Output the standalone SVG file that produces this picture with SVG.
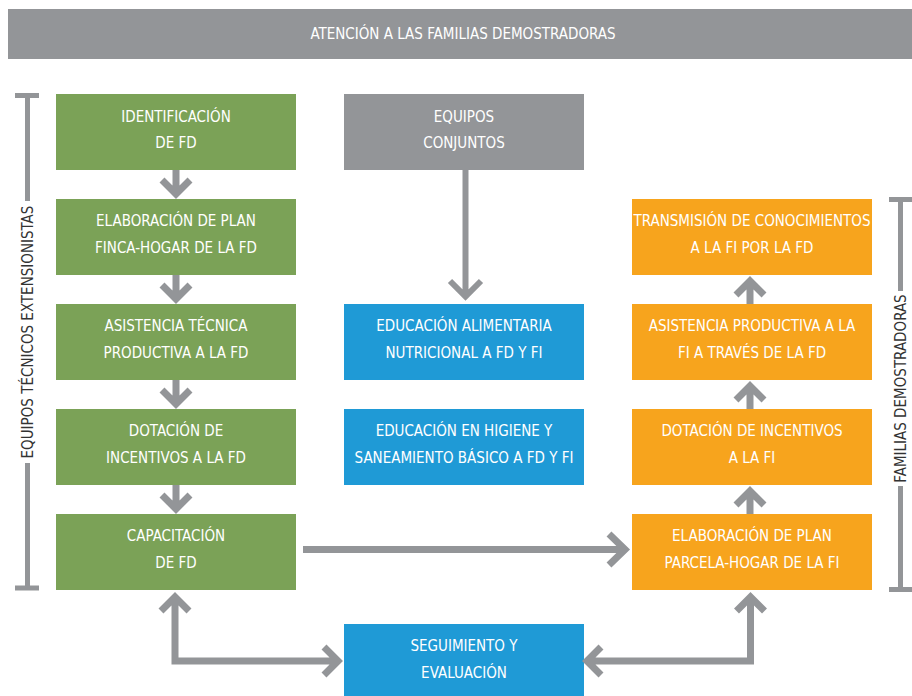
<svg xmlns="http://www.w3.org/2000/svg" width="912" height="696" viewBox="0 0 912 696">
<style>
.t{font-family:"Liberation Sans Narrow","DejaVu Sans Condensed","Liberation Sans",sans-serif;font-size:15px;fill:#ffffff;text-anchor:middle}
.side{font-family:"Liberation Sans Narrow","DejaVu Sans Condensed","Liberation Sans",sans-serif;font-size:15px;fill:#333333;text-anchor:middle}
.g{fill:#7ba257}.o{fill:#f7a41d}.b{fill:#1f9ad6}.gr{fill:#939598}
.c{fill:none;stroke:#939598;stroke-width:7;stroke-linejoin:miter;stroke-linecap:butt}
.br{fill:none;stroke:#939598;stroke-width:5}
</style>
<rect width="912" height="696" fill="#ffffff"/>
<g id="title"><rect class="gr" x="8" y="9" width="904" height="50"/><text class="t" x="463" y="39">ATENCIÓN A LAS FAMILIAS DEMOSTRADORAS</text></g>
<g id="n1"><rect class="g" x="56" y="94" width="240" height="76"/><text class="t" x="176" y="122">IDENTIFICACIÓN</text><text class="t" x="176" y="148">DE FD</text></g>
<g id="n2"><rect class="g" x="56" y="199" width="240" height="76"/><text class="t" x="176" y="226">ELABORACIÓN DE PLAN</text><text class="t" x="176" y="253">FINCA-HOGAR DE LA FD</text></g>
<g id="n3"><rect class="g" x="56" y="304" width="240" height="76"/><text class="t" x="176" y="331">ASISTENCIA TÉCNICA</text><text class="t" x="176" y="358">PRODUCTIVA A LA FD</text></g>
<g id="n4"><rect class="g" x="56" y="409" width="240" height="76"/><text class="t" x="176" y="436">DOTACIÓN DE</text><text class="t" x="176" y="463">INCENTIVOS A LA FD</text></g>
<g id="n5"><rect class="g" x="56" y="514" width="240" height="76"/><text class="t" x="176" y="541">CAPACITACIÓN</text><text class="t" x="176" y="568">DE FD</text></g>
<g id="eq"><rect class="gr" x="344" y="94" width="240" height="76"/><text class="t" x="464" y="122">EQUIPOS</text><text class="t" x="464" y="148">CONJUNTOS</text></g>
<g id="b1"><rect class="b" x="344" y="304" width="240" height="76"/><text class="t" x="464" y="331">EDUCACIÓN ALIMENTARIA</text><text class="t" x="464" y="358">NUTRICIONAL A FD Y FI</text></g>
<g id="b2"><rect class="b" x="344" y="409" width="240" height="76"/><text class="t" x="464" y="436">EDUCACIÓN EN HIGIENE Y</text><text class="t" x="464" y="463">SANEAMIENTO BÁSICO A FD Y FI</text></g>
<g id="se"><rect class="b" x="344" y="624" width="240" height="72"/><text class="t" x="464" y="651">SEGUIMIENTO Y</text><text class="t" x="464" y="678">EVALUACIÓN</text></g>
<g id="o1"><rect class="o" x="632" y="199" width="240" height="76"/><text class="t" x="752" y="226">TRANSMISIÓN DE CONOCIMIENTOS</text><text class="t" x="752" y="253">A LA FI POR LA FD</text></g>
<g id="o2"><rect class="o" x="632" y="304" width="240" height="76"/><text class="t" x="752" y="331">ASISTENCIA PRODUCTIVA A LA</text><text class="t" x="752" y="358">FI A TRAVÉS DE LA FD</text></g>
<g id="o3"><rect class="o" x="632" y="409" width="240" height="76"/><text class="t" x="752" y="436">DOTACIÓN DE INCENTIVOS</text><text class="t" x="752" y="463">A LA FI</text></g>
<g id="o4"><rect class="o" x="632" y="514" width="240" height="76"/><text class="t" x="752" y="541">ELABORACIÓN DE PLAN</text><text class="t" x="752" y="568">PARCELA-HOGAR DE LA FI</text></g>
<g id="brackets">
<path class="br" d="M15 95.5H39M27.5 95.5V201M27.5 463V588M15 588H39"/>
<text class="side" transform="translate(32.5 332) rotate(-90)">EQUIPOS TÉCNICOS EXTENSIONISTAS</text>
<path class="br" d="M889 199.5H912M900.5 199.5V291M900.5 486V589.5M889 589.5H912"/>
<text class="side" transform="translate(906 388.5) rotate(-90)">FAMILIAS DEMOSTRADORAS</text>
</g>
<g id="connectors">
<path class="c" d="M176 170V193M162 180L176 194L190 180"/>
<path class="c" d="M176 275V298M162 285L176 299L190 285"/>
<path class="c" d="M176 380V403M162 390L176 404L190 390"/>
<path class="c" d="M176 485V508M162 495L176 509L190 495"/>
<path class="c" style="stroke-width:6" d="M465.5 170V295M450 281L465.5 296.5L481 281"/>
<path class="c" d="M303 549.5H624M609 534L625 549.5L609 565"/>
<path class="c" d="M750 304V282M736 295L750 281L764 295"/>
<path class="c" d="M750 409V387M736 400L750 386L764 400"/>
<path class="c" d="M750 514V492M736 505L750 491L764 505"/>
<path class="c" d="M175 598V661H337M161 611L175 597L189 611M324 647L338 661L324 675"/>
<path class="c" d="M750.5 598V661H588M736.5 611L750.5 597L764.5 611M601 647L587 661L601 675"/>
</g>
</svg>
